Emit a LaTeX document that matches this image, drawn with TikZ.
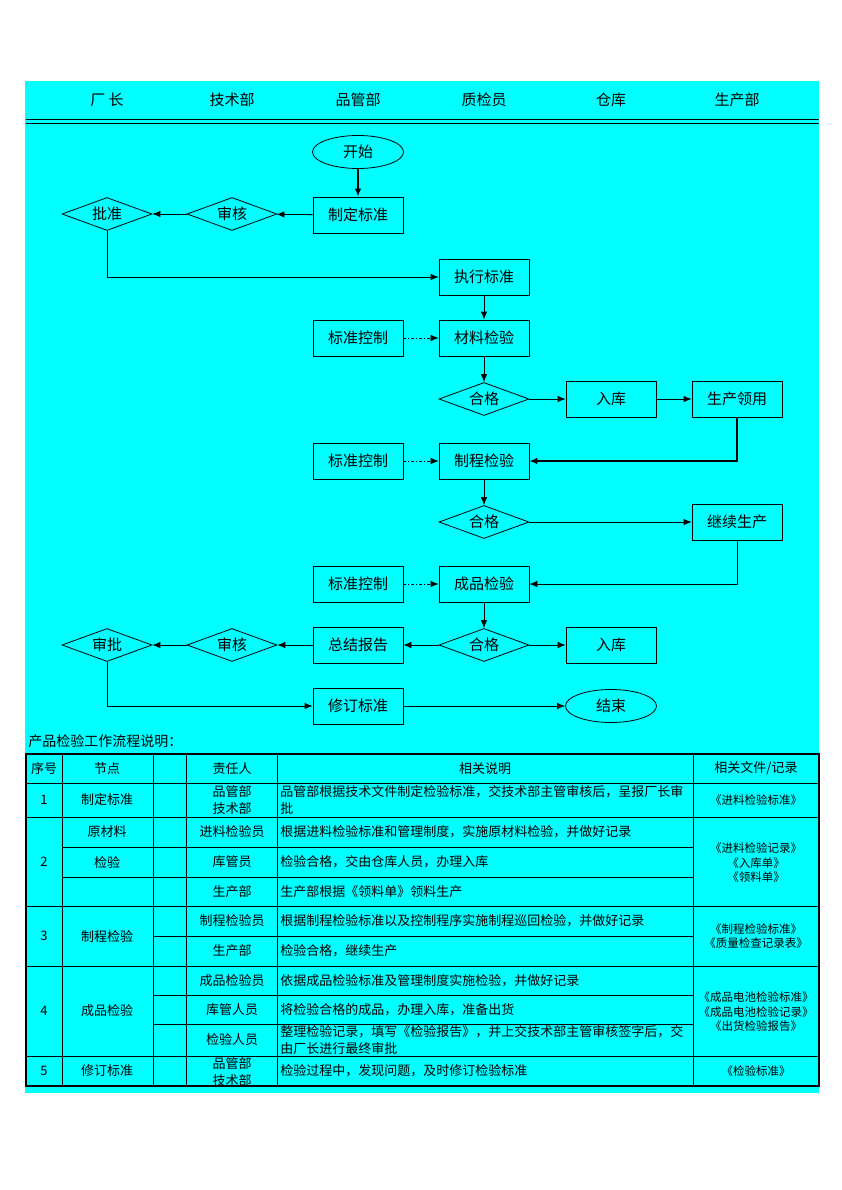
\documentclass[tikz,border=0pt]{standalone}
\usepackage{fontspec}
\setmainfont{Noto Sans CJK SC}
\usepackage{tikz}
\usetikzlibrary{shapes.geometric, arrows.meta, positioning}
\definecolor{sheetcyan}{RGB}{0,255,255}
\newcommand{\flowfont}{\fontsize{15}{18}\selectfont}
\newcommand{\tabfont}{\fontsize{13}{16.5}\selectfont}
\newcommand{\docfont}{\fontsize{11.5}{14.5}\selectfont}
\tikzstyle{every node}=[font=\flowfont]
\tikzstyle{block}=[draw,rectangle,minimum width=90pt,minimum height=36pt,inner sep=0pt]
\tikzstyle{decision}=[draw,diamond,aspect=2.7,minimum width=90pt,minimum height=33pt,inner sep=0pt]
\tikzstyle{terminal}=[draw,ellipse,minimum width=91pt,minimum height=33pt,inner sep=0pt]
\tikzstyle{ctrl}=[line width=0.6pt,dash pattern=on 3pt off 2pt on 1pt off 2pt]
\tikzstyle{heavy}=[line width=1.5pt]
\tikzstyle{cell}=[font=\tabfont,inner sep=0pt,align=center]
\tikzstyle{desc}=[font=\tabfont,inner sep=0pt,anchor=west,align=left]
\tikzstyle{docs}=[font=\docfont,inner sep=0pt,align=center]

\begin{document}
\begin{tikzpicture}[x=1pt,y=-1pt,>={Latex[length=8pt,width=6.5pt]},line width=0.8pt]
  \useasboundingbox (0,0) rectangle (842,1190);
  \fill[sheetcyan] (25,81) rectangle (819,1093);

  % departments
  \node (boss) at (107,100) {厂\ 长};
  \node (tech) at (232,100) {技术部};
  \node (qm) at (358,100) {品管部};
  \node (qc) at (484,100) {质检员};
  \node (depot) at (611,100) {仓库};
  \node (prod) at (737,100) {生产部};
  \draw (26,119) -- (819,119);
  \draw (26,123) -- (819,123);

  % flow
  \node[terminal] (start) at (358,152) {开始};
  \node[block] (draft) at (358,215) {制定标准};
  \node[decision] (review) at (232,214) {审核};
  \node[decision] (approve) at (107,214) {批准};
  \node[block] (exec) at (484,277) {执行标准};
  \node[block] (ctrla) at (358,338) {标准控制};
  \node[block] (matchk) at (484,338) {材料检验};
  \node[decision] (passa) at (484,399) {合格};
  \node[block] (storea) at (611,399) {入库};
  \node[block] (issue) at (737,399) {生产领用};
  \node[block] (ctrlb) at (358,461) {标准控制};
  \node[block] (procchk) at (484,461) {制程检验};
  \node[decision] (passb) at (484,522) {合格};
  \node[block] (goon) at (737,522) {继续生产};
  \node[block] (ctrlc) at (358,584) {标准控制};
  \node[block] (finchk) at (484,584) {成品检验};
  \node[decision] (passc) at (484,645) {合格};
  \node[block] (report) at (358,645) {总结报告};
  \node[decision] (reviewb) at (232,645) {审核};
  \node[decision] (approveb) at (107,645) {审批};
  \node[block] (storeb) at (611,645) {入库};
  \node[block] (revise) at (358,706) {修订标准};
  \node[terminal] (finish) at (611,706) {结束};

  \draw[->,heavy] (start) -- (draft);
  \draw[->] (draft) -- (review);
  \draw[->] (review) -- (approve);
  \draw[->] (approve.south) |- (exec);
  \draw[->] (exec) -- (matchk);
  \draw[->,ctrl] (ctrla) -- (matchk);
  \draw[->] (matchk) -- (passa);
  \draw[->] (passa) -- (storea);
  \draw[->] (storea) -- (issue);
  \draw[->,heavy] (issue.south) |- (procchk);
  \draw[->,ctrl] (ctrlb) -- (procchk);
  \draw[->] (procchk) -- (passb);
  \draw[->] (passb) -- (goon);
  \draw[->] (goon.south) |- (finchk);
  \draw[->,ctrl] (ctrlc) -- (finchk);
  \draw[->] (finchk) -- (passc);
  \draw[->] (passc) -- (report);
  \draw[->] (passc) -- (storeb);
  \draw[->] (report) -- (reviewb);
  \draw[->] (reviewb) -- (approveb);
  \draw[->] (approveb.south) |- (revise);
  \draw[->] (revise) -- (finish);

  % table
  \node[anchor=west,inner sep=0pt,font=\fontsize{14}{17}\selectfont] (note) at (28,741) {产品检验工作流程说明：};
  \foreach \x in {62,153,186,277,693}
    \draw (\x,754) -- (\x,1086);
  \foreach \y in {783,817,906,966,1056}
    \draw (26,\y) -- (819,\y);
  \foreach \y in {847,877}
    \draw (62,\y) -- (693,\y);
  \foreach \y in {936,995,1024}
    \draw (153,\y) -- (693,\y);
  \draw[line width=1.6pt] (26,754) rectangle (819,1086);

  \node[cell] (hno) at (44,768.5) {序号};
  \node[cell] (hstep) at (107,768.5) {节点};
  \node[cell] (hwho) at (232,768.5) {责任人};
  \node[cell] (hdesc) at (485,768.5) {相关说明};
  \node[cell] (hdoc) at (756,768.5) {相关文件/记录};

  \node[cell] (no1) at (44,800) {1};
  \node[cell] (no2) at (44,861.5) {2};
  \node[cell] (no3) at (44,936) {3};
  \node[cell] (no4) at (44,1011) {4};
  \node[cell] (no5) at (44,1071) {5};

  \node[cell] (step1) at (107,800) {制定标准};
  \node[cell] (step2a) at (107,832) {原材料};
  \node[cell] (step2b) at (107,862) {检验};
  \node[cell] (step3) at (107,936) {制程检验};
  \node[cell] (step4) at (107,1011) {成品检验};
  \node[cell] (step5) at (107,1071) {修订标准};

  \node[cell] (who1) at (232,800) {品管部\\技术部};
  \node[cell] (who2a) at (232,832) {进料检验员};
  \node[cell] (who2b) at (232,862) {库管员};
  \node[cell] (who2c) at (232,891.5) {生产部};
  \node[cell] (who3a) at (232,921) {制程检验员};
  \node[cell] (who3b) at (232,951) {生产部};
  \node[cell] (who4a) at (232,980.5) {成品检验员};
  \node[cell] (who4b) at (232,1009.5) {库管人员};
  \node[cell] (who4c) at (232,1040) {检验人员};
  \node[cell] (who5) at (232,1072) {品管部\\技术部};

  \node[desc] (desc1) at (280,800) {品管部根据技术文件制定检验标准，交技术部主管审核后，呈报厂长审\\批};
  \node[desc] (desc2a) at (280,832) {根据进料检验标准和管理制度，实施原材料检验，并做好记录};
  \node[desc] (desc2b) at (280,862) {检验合格，交由仓库人员，办理入库};
  \node[desc] (desc2c) at (280,891.5) {生产部根据《领料单》领料生产};
  \node[desc] (desc3a) at (280,921) {根据制程检验标准以及控制程序实施制程巡回检验，并做好记录};
  \node[desc] (desc3b) at (280,951) {检验合格，继续生产};
  \node[desc] (desc4a) at (280,980.5) {依据成品检验标准及管理制度实施检验，并做好记录};
  \node[desc] (desc4b) at (280,1009.5) {将检验合格的成品，办理入库，准备出货};
  \node[desc] (desc4c) at (280,1040) {整理检验记录，填写《检验报告》，并上交技术部主管审核签字后，交\\由厂长进行最终审批};
  \node[desc] (desc5) at (280,1071) {检验过程中，发现问题，及时修订检验标准};

  \node[docs] (doc1) at (756,800) {《进料检验标准》};
  \node[docs] (doc2) at (756,863) {《进料检验记录》\\《入库单》\\《领料单》};
  \node[docs] (doc3) at (756,936) {《制程检验标准》\\《质量检查记录表》};
  \node[docs] (doc4) at (756,1012) {《成品电池检验标准》\\《成品电池检验记录》\\《出货检验报告》};
  \node[docs] (doc5) at (756,1071) {《检验标准》};
\end{tikzpicture}
\end{document}
